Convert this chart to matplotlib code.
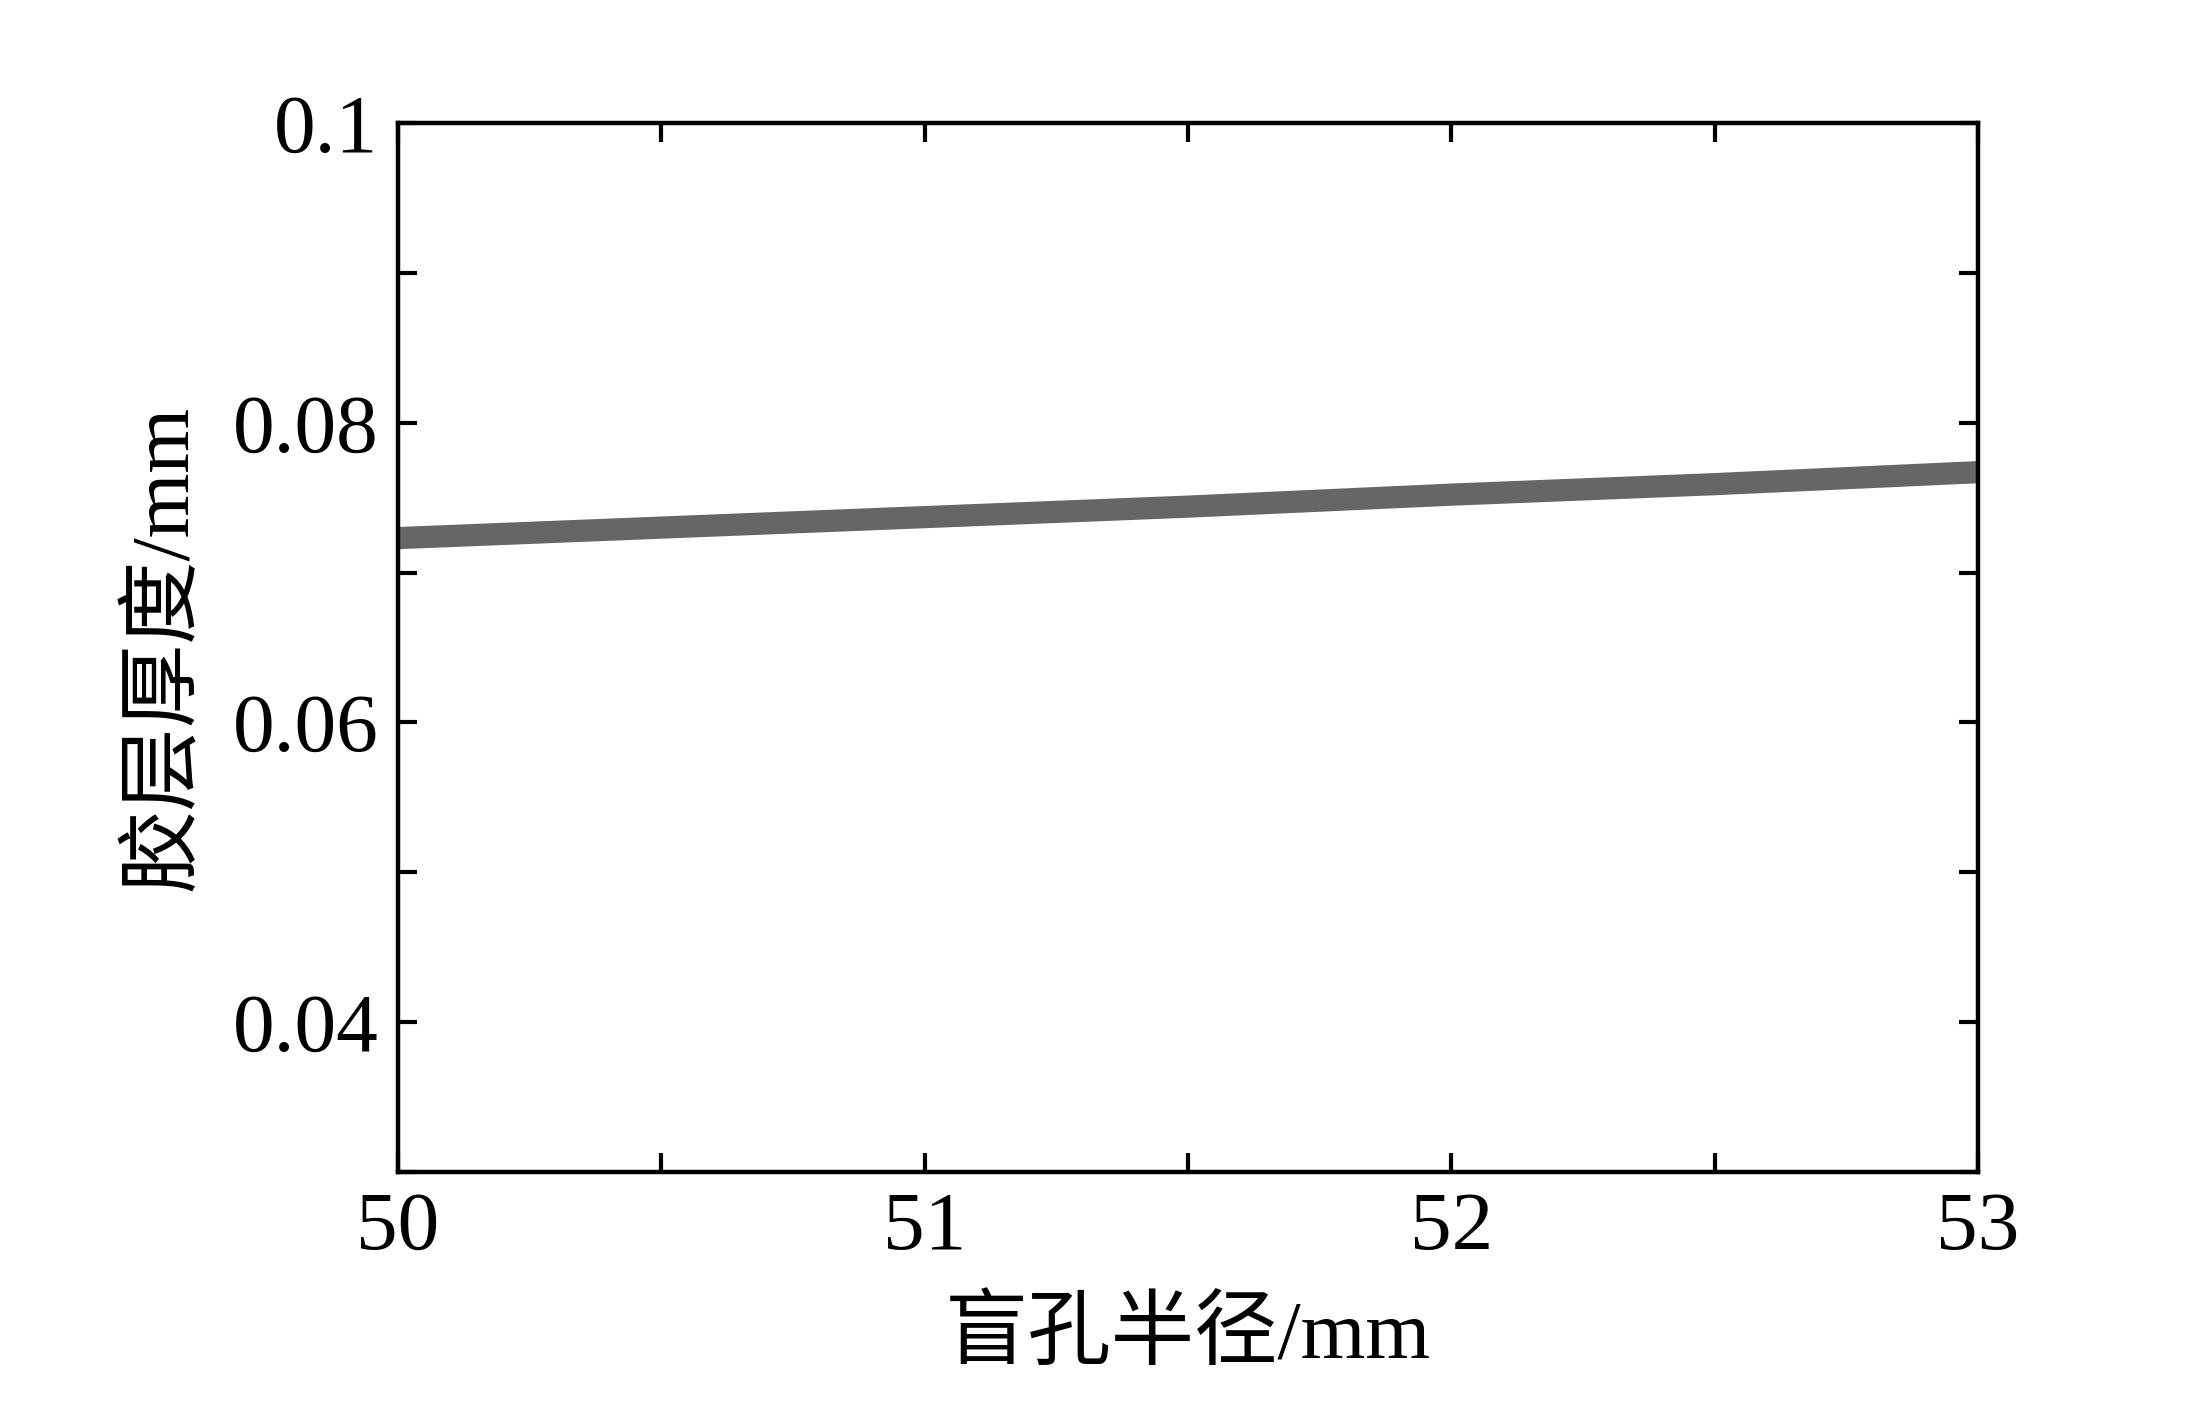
import matplotlib.pyplot as plt
import numpy as np
from matplotlib.ticker import MultipleLocator

plt.rcParams['font.family'] = ['Liberation Serif', 'Noto Sans CJK SC']

# 盲孔半径 (mm) vs 胶层厚度 (mm)
radius = [50.0, 50.5, 51.0, 51.5, 52.0, 52.5, 53.0]
thickness = [0.0723, 0.0730, 0.0737, 0.0744, 0.0752, 0.0759, 0.0767]

fig = plt.figure(figsize=(21.91, 14.02), dpi=100)
ax = fig.add_axes([398 / 2191, 1 - 1172 / 1402, (1978 - 398) / 2191, (1172 - 123) / 1402])

ax.plot(radius, thickness, color='#666666', linewidth=16, solid_capstyle='butt')

ax.set_xlim(50, 53)
ax.set_ylim(0.03, 0.1)
ax.set_xticks([50, 51, 52, 53])
ax.set_yticks([0.04, 0.06, 0.08, 0.1])
ax.set_yticklabels(['0.04', '0.06', '0.08', '0.1'])
ax.xaxis.set_minor_locator(MultipleLocator(0.5))
ax.yaxis.set_minor_locator(MultipleLocator(0.01))

ax.tick_params(which='both', direction='in', top=True, right=True,
               length=14, width=3, labelsize=60)
ax.tick_params(axis='x', pad=14)
ax.tick_params(axis='y', pad=14)
for s in ax.spines.values():
    s.set_linewidth(3.2)

ax.set_xlabel('盲孔半径/mm', fontsize=60, labelpad=22)
ax.set_ylabel('胶层厚度/mm', fontsize=60, labelpad=20)

fig.savefig('out.png', dpi=100)
